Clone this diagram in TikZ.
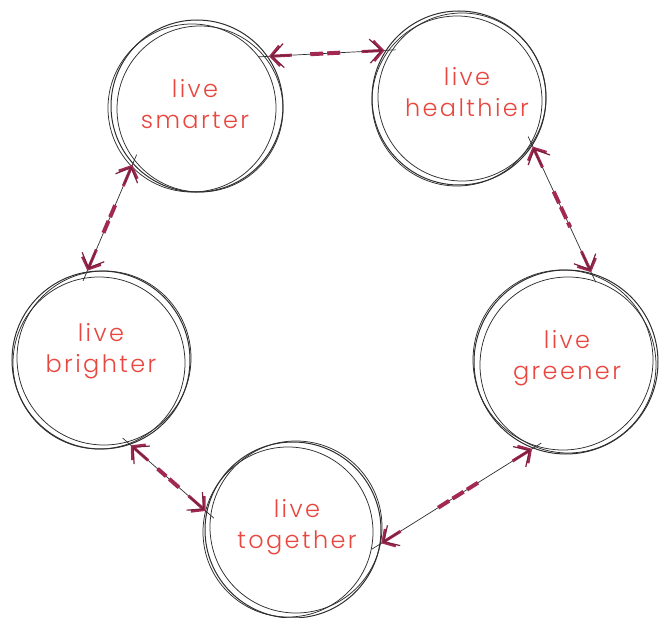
\documentclass[tikz,border=0pt]{standalone}
\usepackage{fontspec}
\setmainfont{Poppins Light}[LetterSpace=10]
\usetikzlibrary{calc,arrows.meta}
\definecolor{txtred}{HTML}{E8463E}
\definecolor{maroon}{HTML}{A22A52}
\definecolor{ink}{HTML}{2E2E2E}
\tikzset{
 ring/.style={circle, draw=ink, line width=1pt, inner sep=0pt},
 sketch/.style={draw=ink, line width=0.75pt},
 word/.style={text=txtred, align=center, font=\fontsize{24}{31}\selectfont},
 linkthin/.style={draw=ink, line width=0.7pt, shorten <=-10pt, shorten >=-10pt},
 linkdash/.style={draw=maroon, line width=4pt, dash pattern=on 13pt off 4pt},
 linkhead/.style={draw=maroon, line width=3pt, -{Straight Barb[length=9pt,width=20pt]}},
 linkheadb/.style={draw=maroon!75!black, line width=1.2pt, -{Straight Barb[length=12pt,width=24pt]}},
}
\newcommand\sketchlink[2]{%
 \draw[linkthin] (#1) -- (#2);
 \draw[linkdash] ($(#1)!0.36!(#2)$) -- ($(#1)!0.64!(#2)$);
 \draw[linkhead] ($(#1)!24pt!(#2)$) -- ($(#1)!1pt!(#2)$);
 \draw[linkhead] ($(#2)!24pt!(#1)$) -- ($(#2)!1pt!(#1)$);
 \draw[linkheadb] ($(#1)!22pt!(#2)$) -- ($(#1)!3pt!(#2)$);
 \draw[linkheadb] ($(#2)!22pt!(#1)$) -- ($(#2)!3pt!(#1)$);
}
\begin{document}
\begin{tikzpicture}[x=1pt,y=-1pt]
\useasboundingbox (0,0) rectangle (665,618);
% rings
\node[ring, minimum size=172pt] (smarter) at (197,106) {};
\node[ring, minimum size=174pt] (healthier) at (459,98) {};
\node[ring, minimum size=184pt] (greener) at (566,362) {};
\node[ring, minimum size=178pt] (brighter) at (101,360) {};
\node[ring, minimum size=176pt] (together) at (293,530) {};
% extra sketch strokes
\draw[sketch] ($(smarter)+(3,3)$) circle[radius=83];
\draw[sketch] ($(smarter)+(-5,2)$) circle[radius=84];
\draw[sketch] ($(healthier)+(-2,3)$) circle[radius=85];
\draw[sketch] ($(healthier)+(3,-1)$) circle[radius=84];
\draw[sketch] ($(greener)+(-3,-2)$) circle[radius=90];
\draw[sketch] ($(greener)+(2,3)$) circle[radius=88];
\draw[sketch] ($(brighter)+(3,-2)$) circle[radius=87];
\draw[sketch] ($(brighter)+(-2,3)$) circle[radius=86];
\draw[sketch] ($(together)+(3,-3)$) circle[radius=86];
\draw[sketch] ($(together)+(-5,2)$) circle[radius=85];
% words
\node[word] (wsmarter) at (195,104) {live\\smarter};
\node[word] (whealthier) at (467,92) {live\\healthier};
\node[word] (wgreener) at (567,358) {live\\greener};
\node[word] (wbrighter) at (101,351) {live\\brighter};
\node[word] (wtogether) at (297,527) {live\\together};
% connectors
\sketchlink{smarter.35}{healthier.147}
\sketchlink{healthier.-33}{greener.74}
\sketchlink{greener.249}{together.-9}
\sketchlink{together.168}{brighter.289}
\sketchlink{brighter.99}{smarter.222}
\end{tikzpicture}
\end{document}
